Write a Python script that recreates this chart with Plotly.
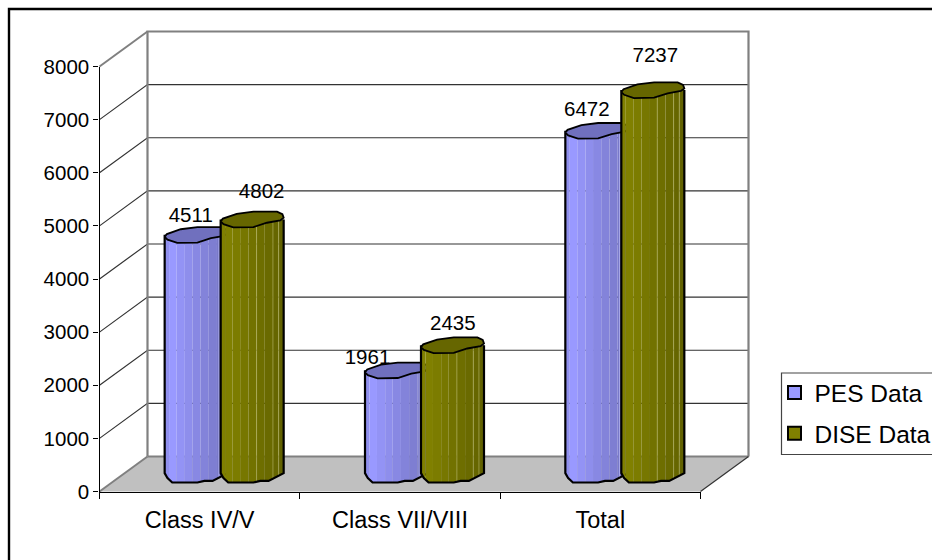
import numpy as np
import plotly.graph_objects as go

categories = ["Class IV/V", "Class VII/VIII", "Total"]
pes_values = [4511, 1961, 6472]
dise_values = [4802, 2435, 7237]
y_ticks = [0, 1000, 2000, 3000, 4000, 5000, 6000, 7000, 8000]

# pixel frame of the front plane of the pseudo-3D box
L, R, T, B = 99.5, 700.5, 66.5, 491.5
DX, DY = 48, 35            # box depth in pixels
W, H = 932, 560
PX = 3 / (R - L)           # x units per pixel
PY = 8000 / (B - T)        # y units per pixel
FONT = "Liberation Sans, Arial, sans-serif"
FS = 20.5

def dep(x, y, f=1.0):
    return x + f * DX * PX, y + f * DY * PY

def line(xs, ys, color, width, fill=None, fillcolor=None):
    return go.Scatter(x=xs, y=ys, mode="lines", line=dict(color=color, width=width),
                      fill=fill, fillcolor=fillcolor, hoverinfo="skip",
                      showlegend=False, cliponaxis=False)

fig = go.Figure()

# floor
fx, fy = dep(np.array([0, 3.0]), np.array([0, 0.0]))
fig.add_trace(line([0, fx[0], fx[1], 3, 0], [0, fy[0], fy[1], 0, 0], "rgba(0,0,0,0)", 0,
                   "toself", "#C0C0C0"))
# gridlines
for v in y_ticks[1:-1]:
    vy = v + DY * PY
    fig.add_trace(line([0, fx[0], fx[1]], [v, vy, vy], "#333333", 1.2))
# walls: left wall and back wall outlines
fig.add_trace(line([0, fx[0]], [8000, 8000 + DY * PY], "#808080", 2))
fig.add_trace(line([0, fx[0]], [0, fy[0]], "#808080", 2))
fig.add_trace(line([fx[0], fx[0], fx[1], fx[1]],
                   [fy[0], 8000 + DY * PY, 8000 + DY * PY, fy[0]], "#808080", 2.2))
fig.add_trace(line([fx[0], fx[1]], [fy[0], fy[0]], "#808080", 2))
fig.add_trace(line([3, fx[1]], [0, fy[0]], "#333333", 1.2))

# wobbly low-poly cylinder outline, units of half-width / half-height
top_u = [-1, -.93, -.49, .04, .79, .96, 1, .89, .47, .04, -.6, -.91, -1]
top_v = [-.25, .1, .7, .96, .96, .65, .2, -.12, -.42, -.96, -1, -.6, -.25]
base_u = np.array([-1, -.91, -.76, .04, .26, .52, 1])
base_v = np.array([.17, -.46, -1, -1, -.8, -.8, .17])
A = 31.5 * PX              # cylinder half-width
Bb = 8.0 * PY              # cylinder half-height
BASE_Y = 17.0 * PY         # centre of the base above the front edge
DEPTH_X = 24.5 * PX
OFF = 28 * PX

strip_edges = [-1, -.86, -.62, -.36, -.12, .14, .4, .66, .84, 1]
shades = {
    "PES Data": ["#9090EE", "#9999FF", "#9393F5", "#8E8EEC", "#8888E3", "#8383DA",
                 "#7E7ED2", "#7979CA", "#7575C3"],
    "DISE Data": ["#808000", "#808000", "#7C7C00", "#777700", "#727200", "#6E6E00",
                  "#6A6A00", "#666600", "#626200"],
}
top_color = {"PES Data": "#7070BE", "DISE Data": "#666600"}
legend_color = {"PES Data": "#9999FF", "DISE Data": "#808000"}
shine = {"PES Data": "rgba(205,205,255,0.55)", "DISE Data": "rgba(190,190,110,0.55)"}
shine_u = {"PES Data": [.72], "DISE Data": [.14, .66, .84]}

series = [("PES Data", pes_values, -OFF, [(-5.4, 18), (-29, 11.3), (-10, 20)]),
          ("DISE Data", dise_values, OFF, [(9.5, 26.7), (0.3, 20), (2.5, 33)])]

lab_x, lab_y, lab_t = [], [], []
for name, vals, off, lab_off in series:
    cx = np.arange(3) + 0.5 + DEPTH_X + off
    cy = np.array(vals, float) + BASE_Y
    for s, col in enumerate(shades[name]):
        xs, ys = [], []
        u0, u1 = strip_edges[s], strip_edges[s + 1]
        inner = [u for u in base_u if u0 < u < u1]
        us = [u0] + inner + [u1]
        vs = np.interp(us, base_u, base_v)
        for c, t in zip(cx, cy):
            xs += [c + u0 * A, c + u1 * A] + [c + u * A for u in reversed(us)] + [c + u0 * A, None]
            ys += [t, t] + [BASE_Y + v * Bb for v in reversed(vs)] + [t, None]
        fig.add_trace(line(xs, ys, col, 0, "toself", col))
    # thin light vertical highlights
    xs, ys = [], []
    for u in shine_u[name]:
        for c, t in zip(cx, cy):
            xs += [c + u * A, c + u * A, None]
            ys += [t, BASE_Y + np.interp(u, base_u, base_v) * Bb, None]
    fig.add_trace(line(xs, ys, shine[name], 1))
    # silhouette
    xs, ys = [], []
    for c, t in zip(cx, cy):
        xs += [c - A] + [c + u * A for u in base_u] + [c + A, None]
        ys += [t] + [BASE_Y + v * Bb for v in base_v] + [t, None]
    fig.add_trace(line(xs, ys, "#000000", 2.2))
    # top face
    xs, ys = [], []
    for c, t in zip(cx, cy):
        xs += [c + u * A for u in top_u] + [None]
        ys += [t + v * Bb for v in top_v] + [None]
    fig.add_trace(line(xs, ys, "#000000", 1.8, "toself", top_color[name]))
    for c, t, v, (ox, oy) in zip(cx, cy, vals, lab_off):
        lab_x.append(c + ox * PX)
        lab_y.append(t + oy * PY)
        lab_t.append(str(v))
    # legend entry
    fig.add_trace(go.Scatter(x=[None], y=[None], xaxis="x2", yaxis="y2", mode="markers", name=name,
                             legendgroup=name,
                             marker=dict(symbol="square", size=13, color=legend_color[name],
                                         line=dict(color="#000000", width=2))))

fig.add_trace(go.Scatter(x=lab_x, y=lab_y, text=lab_t, mode="text", textposition="middle center",
                         textfont=dict(family=FONT, size=FS, color="#000000"),
                         hoverinfo="skip", showlegend=False, cliponaxis=False))

def px(x):
    return x / W

def py(y):
    return 1 - y / H

shapes = [
    dict(type="rect", xref="paper", yref="paper", x0=px(9), x1=px(960), y0=py(9), y1=py(600),
         line=dict(color="#000000", width=2.4), layer="below"),
    dict(type="rect", xref="paper", yref="paper", x0=px(781.5), x1=px(950), y0=py(373), y1=py(454.5),
         line=dict(color="#444444", width=1.2), fillcolor="#FFFFFF", layer="below"),
]

fig.update_layout(
    width=W, height=H, autosize=False,
    margin=dict(l=0, r=0, t=0, b=0, pad=0, autoexpand=False),
    paper_bgcolor="#FFFFFF", plot_bgcolor="rgba(0,0,0,0)",
    font=dict(family=FONT, size=FS, color="#000000"),
    shapes=shapes,
    hovermode=False,
    legend=dict(x=px(774.5), y=py(370), xanchor="left", yanchor="top", borderwidth=0,
                bgcolor="rgba(0,0,0,0)", tracegroupgap=6, traceorder="grouped",
                font=dict(family=FONT, size=24.5, color="#000000")),
    # full-page hidden axes that carry the marks, on the same scale as the visible axes
    xaxis=dict(visible=False, domain=[0, 1], range=[-L * PX, (W - L) * PX]),
    yaxis=dict(visible=False, domain=[0, 1], range=[(B - H) * PY, B * PY]),
    # visible front-plane axes
    xaxis2=dict(anchor="y2", domain=[L / W, R / W], range=[0, 3], tickmode="array",
                tickvals=[0.5, 1.5, 2.5], ticktext=categories,
                ticks="", showgrid=False, zeroline=False, showline=True, linecolor="#000000",
                linewidth=1.4, ticklabelstandoff=7,
                minor=dict(tickmode="array", tickvals=[0, 1, 2, 3], ticks="outside", ticklen=6,
                           tickcolor="#000000", tickwidth=1, showgrid=False),
                tickfont=dict(family=FONT, size=23.5, color="#000000")),
    yaxis2=dict(anchor="x2", domain=[(H - B) / H, (H - T) / H], range=[0, 8000], tickmode="array",
                tickvals=y_ticks, ticks="outside", ticklen=5,
                tickcolor="#000000", tickwidth=1, showgrid=False, zeroline=False, showline=True,
                linecolor="#000000", linewidth=1.4,
                tickfont=dict(family=FONT, size=FS, color="#000000")),
)

fig.write_html("out.html", config=dict(displayModeBar=False),
               post_script="document.body.style.margin='0';")
